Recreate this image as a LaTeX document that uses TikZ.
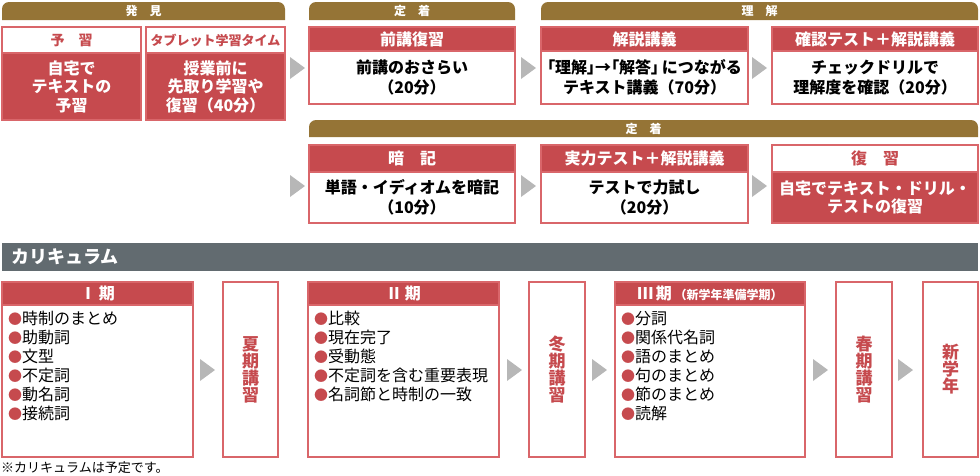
\documentclass[tikz,border=0pt]{standalone}
\usepackage{fontspec}
\setmainfont{Noto Sans CJK JP}
\definecolor{brn}{HTML}{957436}
\definecolor{crd}{HTML}{C64A4E}
\definecolor{pnk}{HTML}{D9666A}
\definecolor{gbar}{HTML}{626B70}
\definecolor{arr}{HTML}{B7B7B7}
\newcommand\fz[2]{\fontsize{#1}{#2}\selectfont}
\newcommand\bx[7]{\node[#2, minimum width={#5-#3}, minimum height={#6-#4}] (#1) at (#3,#4) {#7};}
\newcommand\banner[6]{%
  \fill[brn] (#2,#5) [rounded corners=7pt] -- (#2,#3) -- (#4,#3) [sharp corners] -- (#4,#5) -- cycle;
  \node[font=\fz{12}{12}\bfseries, text=white, inner sep=0] (#1) at ({(#2+#4)/2},{(#3+#5)/2}) {#6};}
\newcommand\tri[2]{\fill[arr] (#1,#2-11) -- (#1+15,#2) -- (#1,#2+11) -- cycle;}
\newcommand\bul{{\fz{14}{14}\textcolor{crd}{●}}}
\tikzset{
  part/.style={anchor=north west, inner sep=0pt, outer sep=0pt, draw=pnk, line width=1.3pt, align=center},
  hdrR/.style={part, fill=crd, text=white, font=\fz{16}{18}\bfseries},
  hdrW/.style={part, fill=white, text=crd, font=\fz{16}{18}\bfseries},
  bodyR/.style={part, fill=crd, text=white, font=\fz{16}{18.5}\bfseries},
  bodyW/.style={part, fill=white, text=black, font=\fz{16}{20}\bfseries},
  curhdr/.style={part, fill=crd, text=white, font=\fz{16}{18}\bfseries},
  curbody/.style={part, fill=white},
  vbox/.style={part, fill=white, text=crd, font=\fz{17}{17}\bfseries},
  blist/.style={anchor=north west, inner sep=0pt, align=left, font=\fz{16}{19}}
}
\begin{document}
\begin{tikzpicture}[x=1pt,y=-1pt]
\useasboundingbox (0,0) rectangle (980,475);
% banners
\banner{bA}{2}{2}{285}{20}{発　見}
\banner{bB}{309}{2}{515}{20}{定　着}
\banner{bC}{541}{2}{978}{20}{理　解}
\banner{bD}{309}{120}{978}{137}{定　着}
% row 1
\bx{h1}{hdrW, font=\fz{14}{14}\bfseries}{2}{27}{141}{53}{予　習}
\bx{d1}{bodyR}{2}{53}{141}{120}{自宅で\\テキストの\\予習}
\bx{h2}{hdrW, font=\fz{13}{13}\bfseries}{146}{27}{285}{53}{タブレット学習タイム}
\bx{d2}{bodyR}{146}{53}{285}{120}{授業前に\\先取り学習や\\復習（40分）}
\bx{h3}{hdrR}{309}{27}{515}{51}{前講復習}
\bx{d3}{bodyW}{309}{51}{515}{104}{前講のおさらい\\（20分）}
\bx{h4}{hdrR}{541}{27}{748}{51}{解説講義}
\bx{d4}{bodyW}{541}{51}{748}{104}{{\addfontfeatures{RawFeature=+palt}「理解」→「解答」}\,につながる\\テキスト講義（70分）}
\bx{h5}{hdrR}{772}{27}{978}{51}{確認テスト＋解説講義}
\bx{d5}{bodyW}{772}{51}{978}{104}{チェックドリルで\\理解度を確認（20分）}
% row 2
\bx{h6}{hdrR}{309}{145}{515}{172}{暗　記}
\bx{d6}{bodyW}{309}{172}{515}{223}{単語・イディオムを暗記\\（10分）}
\bx{h7}{hdrR}{541}{145}{748}{172}{実力テスト＋解説講義}
\bx{d7}{bodyW}{541}{172}{748}{223}{テストで力試し\\（20分）}
\bx{h8}{hdrW}{772}{145}{978}{172}{復　習}
\bx{d8}{bodyR}{772}{172}{978}{223}{自宅でテキスト・ドリル・\\テストの復習}
% arrows
\tri{290}{68}\tri{521}{68}\tri{752}{68}
\tri{290}{186}\tri{521}{186}\tri{752}{186}
% curriculum bar
\fill[gbar] (2,243) rectangle (978,271);
\node[anchor=west, inner sep=0, text=white, font=\fz{18}{18}\bfseries] (cur) at (11,257) {カリキュラム};
% curriculum boxes
\bx{c1h}{curhdr}{2}{282}{193}{305}{Ⅰ\,期}
\bx{c1b}{curbody}{2}{305}{193}{457}{}
\node[blist] (l1) at (8,311) {\bul 時制のまとめ\\\bul 助動詞\\\bul 文型\\\bul 不定詞\\\bul 動名詞\\\bul 接続詞};
\bx{c2}{vbox}{223}{282}{278}{457}{夏\\期\\講\\習}
\bx{c3h}{curhdr}{308}{282}{499}{305}{Ⅱ\,期}
\bx{c3b}{curbody}{308}{305}{499}{457}{}
\node[blist] (l3) at (314,311) {\bul 比較\\\bul 現在完了\\\bul 受動態\\\bul 不定詞を含む重要表現\\\bul 名詞節と時制の一致};
\bx{c4}{vbox}{529}{282}{585}{457}{冬\\期\\講\\習}
\bx{c5h}{curhdr}{615}{282}{805}{305}{Ⅲ\,期\,{\fz{12}{12}（新学年準備学期）}}
\bx{c5b}{curbody}{615}{305}{805}{457}{}
\node[blist] (l5) at (621,311) {\bul 分詞\\\bul 関係代名詞\\\bul 語のまとめ\\\bul 句のまとめ\\\bul 節のまとめ\\\bul 読解};
\bx{c6}{vbox}{836}{282}{892}{457}{春\\期\\講\\習}
\bx{c7}{vbox}{923}{282}{978}{457}{新\\学\\年}
\tri{200}{370}\tri{507}{370}\tri{592}{370}\tri{813}{370}\tri{898}{370}
\node[anchor=west, inner sep=0, font=\fz{13}{13}] (note) at (1,468) {※カリキュラムは予定です。};
\end{tikzpicture}
\end{document}
